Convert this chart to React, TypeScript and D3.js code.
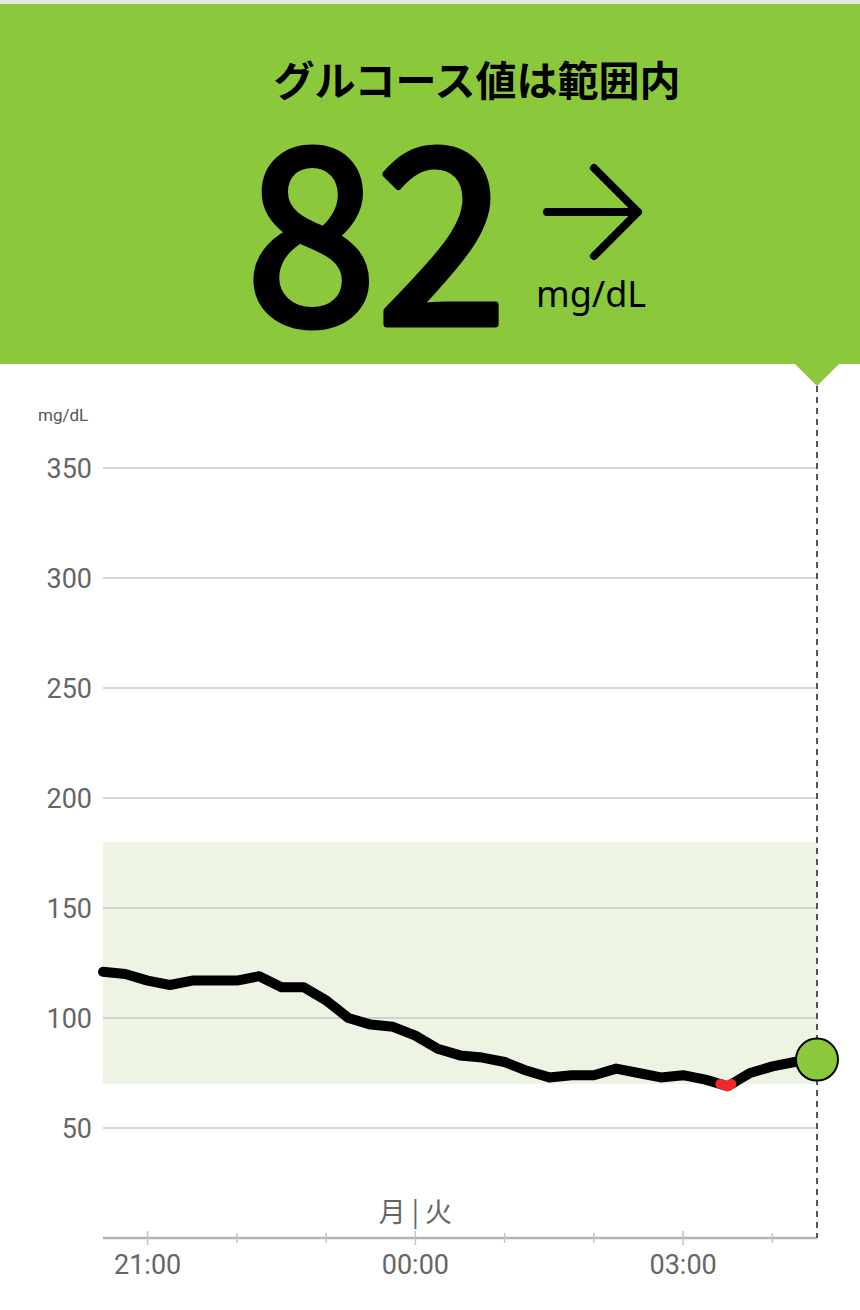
import * as d3 from "d3";
import { useEffect, useRef } from "react";

// 15-minute readings, Monday 20:30 through Tuesday 04:30
const times = [
  "20:30", "20:45", "21:00", "21:15", "21:30", "21:45", "22:00", "22:15",
  "22:30", "22:45", "23:00", "23:15", "23:30", "23:45", "00:00", "00:15",
  "00:30", "00:45", "01:00", "01:15", "01:30", "01:45", "02:00", "02:15",
  "02:30", "02:45", "03:00", "03:15", "03:30", "03:45", "04:00", "04:15",
  "04:30",
];
const glucose = [
  121, 120, 117, 115, 117, 117, 117, 119,
  114, 114, 108, 100, 97, 96, 92, 86,
  83, 82, 80, 76, 73, 74, 74, 77,
  75, 73, 74, 72, 69, 75, 78, 80,
  82,
];
const yTicks = [50, 100, 150, 200, 250, 300, 350];
const majorTicks = ["21:00", "00:00", "03:00"];
const minorTicks = ["22:00", "23:00", "01:00", "02:00", "04:00"];
const targetRange = [70, 180];
const current = 82;

const GREEN = "#8cc83c";

// times before noon belong to the next day
const toDate = (t: string) => {
  const [h, m] = t.split(":").map(Number);
  return new Date(2024, 0, h < 12 ? 2 : 1, h, m);
};

export default function App() {
  const ref = useRef<SVGSVGElement>(null);

  useEffect(() => {
    const width = 860;
    const height = 1310;
    const left = 103;
    const right = 817;

    const svg = d3.select(ref.current);
    svg.selectAll("*").remove();

    const data = times.map((t, i) => ({ date: toDate(t), value: glucose[i] }));

    const x = d3
      .scaleTime()
      .domain([toDate(times[0]), toDate(times[times.length - 1])])
      .range([left, right]);
    const y = d3.scaleLinear().domain([0, 350]).range([1238, 468]);

    // header banner
    svg.append("rect").attr("width", width).attr("height", height).attr("fill", "#fff");
    svg.append("rect").attr("width", width).attr("height", 364).attr("fill", GREEN);
    svg.append("rect").attr("width", width).attr("height", 4).attr("fill", "#e4e6e0");
    svg
      .append("path")
      .attr("d", `M${right - 23},363 L${right + 23},363 L${right},386 Z`)
      .attr("fill", GREEN);

    svg
      .append("text")
      .attr("x", 477)
      .attr("y", 96)
      .attr("text-anchor", "middle")
      .attr("font-family", "'Noto Sans CJK JP', sans-serif")
      .attr("font-weight", "bold")
      .attr("font-size", 41)
      .attr("fill", "#000")
      .text("グルコース値は範囲内");

    // big reading: regular weight thickened with a stroke
    svg
      .append("text")
      .attr("x", 246)
      .attr("y", 324)
      .attr("font-family", "'Noto Sans CJK JP', sans-serif")
      .attr("font-size", 242)
      .attr("textLength", 261)
      .attr("lengthAdjust", "spacingAndGlyphs")
      .attr("fill", "#000")
      .attr("stroke", "#000")
      .attr("stroke-width", 7)
      .attr("stroke-linejoin", "round")
      .text(String(current));

    svg
      .append("path")
      .attr("d", "M547,212 L638,212 M594,168 L638,212 L594,256")
      .attr("fill", "none")
      .attr("stroke", "#000")
      .attr("stroke-width", 8)
      .attr("stroke-linecap", "round")
      .attr("stroke-linejoin", "round");

    svg
      .append("text")
      .attr("x", 536)
      .attr("y", 307)
      .attr("font-family", "'Noto Sans', sans-serif")
      .attr("font-size", 36)
      .attr("fill", "#000")
      .text("mg/dL");

    // target band
    svg
      .append("rect")
      .attr("x", left)
      .attr("y", y(targetRange[1]))
      .attr("width", right - left)
      .attr("height", y(targetRange[0]) - y(targetRange[1]))
      .attr("fill", "#eef4e4");

    // grid + y labels
    const grid = svg.append("g");
    grid
      .selectAll("line")
      .data(yTicks)
      .join("line")
      .attr("x1", left)
      .attr("x2", right)
      .attr("y1", (d) => y(d))
      .attr("y2", (d) => y(d))
      .attr("stroke", "#c8c8c8")
      .attr("stroke-width", 1.5);
    grid
      .selectAll("text")
      .data(yTicks)
      .join("text")
      .attr("x", 92)
      .attr("y", (d) => y(d) + 10)
      .attr("text-anchor", "end")
      .attr("font-family", "Roboto, sans-serif")
      .attr("font-size", 27)
      .attr("fill", "#666")
      .text((d) => d);

    svg
      .append("text")
      .attr("x", 38)
      .attr("y", 421)
      .attr("font-family", "Roboto, sans-serif")
      .attr("font-size", 17)
      .attr("fill", "#555")
      .text("mg/dL");

    // x axis
    const axisY = y(0);
    svg
      .append("line")
      .attr("x1", left)
      .attr("x2", right)
      .attr("y1", axisY)
      .attr("y2", axisY)
      .attr("stroke", "#b4b4b4")
      .attr("stroke-width", 2.5);
    svg
      .append("g")
      .selectAll("line")
      .data(majorTicks)
      .join("line")
      .attr("x1", (d) => x(toDate(d)))
      .attr("x2", (d) => x(toDate(d)))
      .attr("y1", axisY - 7)
      .attr("y2", axisY + 7)
      .attr("stroke", "#c4c4c4")
      .attr("stroke-width", 1.5);
    svg
      .append("g")
      .selectAll("line")
      .data(minorTicks)
      .join("line")
      .attr("x1", (d) => x(toDate(d)))
      .attr("x2", (d) => x(toDate(d)))
      .attr("y1", axisY - 5)
      .attr("y2", axisY + 5)
      .attr("stroke", "#c4c4c4")
      .attr("stroke-width", 1.5);
    svg
      .append("g")
      .selectAll("text")
      .data(majorTicks)
      .join("text")
      .attr("x", (d) => x(toDate(d)))
      .attr("y", axisY + 36)
      .attr("text-anchor", "middle")
      .attr("font-family", "Roboto, sans-serif")
      .attr("font-size", 27)
      .attr("fill", "#666")
      .text((d) => d);
    svg
      .append("text")
      .attr("x", x(toDate("00:00")))
      .attr("y", axisY - 16)
      .attr("text-anchor", "middle")
      .attr("font-family", "'Noto Sans CJK JP', sans-serif")
      .attr("font-size", 27)
      .attr("fill", "#666")
      .text("月 | 火");

    // now marker line
    svg
      .append("line")
      .attr("x1", right)
      .attr("x2", right)
      .attr("y1", 386)
      .attr("y2", axisY)
      .attr("stroke", "#555")
      .attr("stroke-width", 2)
      .attr("stroke-dasharray", "6,5");

    // glucose trace
    const line = d3
      .line<{ date: Date; value: number }>()
      .x((d) => x(d.date))
      .y((d) => y(d.value));
    svg
      .append("path")
      .attr("d", line(data))
      .attr("fill", "none")
      .attr("stroke", "#000")
      .attr("stroke-width", 10)
      .attr("stroke-linejoin", "round")
      .attr("stroke-linecap", "round");

    // portions below the target range in red
    const low = targetRange[0];
    const lowSegments: { date: Date; value: number }[][] = [];
    let seg: { date: Date; value: number }[] | null = null;
    const cross = (a: { date: Date; value: number }, b: { date: Date; value: number }) => {
      const t = (a.value - low) / (a.value - b.value);
      return {
        date: new Date(+a.date + t * (+b.date - +a.date)),
        value: low,
      };
    };
    data.forEach((d, i) => {
      const prev = data[i - 1];
      if (d.value < low) {
        if (!seg) {
          seg = prev ? [cross(prev, d)] : [];
          lowSegments.push(seg);
        }
        seg.push(d);
      } else if (seg) {
        seg.push(cross(prev, d));
        seg = null;
      }
    });
    svg
      .append("g")
      .selectAll("path")
      .data(lowSegments)
      .join("path")
      .attr("d", (s) => line(s))
      .attr("fill", "none")
      .attr("stroke", "#f0282d")
      .attr("stroke-width", 10)
      .attr("stroke-linejoin", "round")
      .attr("stroke-linecap", "round");

    const last = data[data.length - 1];
    svg
      .append("circle")
      .attr("cx", x(last.date))
      .attr("cy", y(last.value) + 2)
      .attr("r", 21)
      .attr("fill", GREEN)
      .attr("stroke", "#000")
      .attr("stroke-width", 2);
  }, []);

  return (
    <svg
      ref={ref}
      width={860}
      height={1310}
      style={{ position: "absolute", left: 0, top: 0, display: "block" }}
    />
  );
}
